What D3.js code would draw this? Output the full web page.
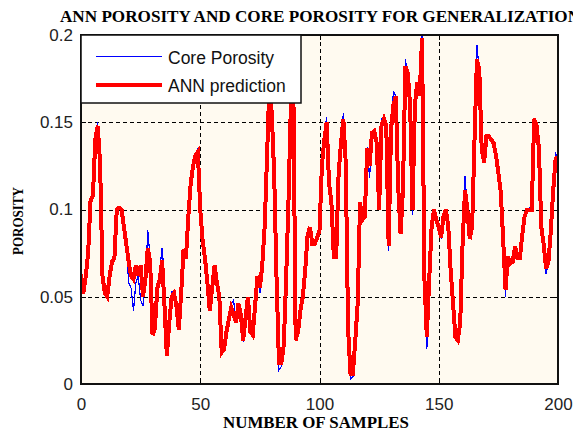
<!DOCTYPE html>
<html><head><meta charset="utf-8">
<script src="https://cdn.jsdelivr.net/npm/d3@7"></script>
<style>
html,body{margin:0;padding:0;background:#fff;overflow:hidden;}
svg{display:block;}
</style></head>
<body>
<script>
const titleText = "ANN POROSITY AND CORE POROSITY FOR GENERALIZATION";
const xLabel = "NUMBER OF SAMPLES";
const yLabel = "POROSITY";
const seriesNames = ["Core Porosity", "ANN prediction"];
const xTicks = [0, 50, 100, 150, 200];
const xTickLabels = ["0", "50", "100", "150", "200"];
const yTicks = [0, 0.05, 0.1, 0.15, 0.2];
const yTickLabels = ["0", "0.05", "0.1", "0.15", "0.2"];

const annPrediction = [
0.063,0.052,0.062,0.075,0.105,0.108,0.140,0.148,0.127,0.062,
0.052,0.050,0.062,0.070,0.072,0.100,0.101,0.100,0.090,0.080,
0.070,0.062,0.060,0.068,0.062,0.068,0.050,0.060,0.078,0.070,
0.028,0.032,0.055,0.060,0.071,0.045,0.016,0.035,0.050,0.052,
0.045,0.031,0.052,0.077,0.072,0.096,0.115,0.125,0.131,0.133,
0.100,0.082,0.072,0.058,0.042,0.055,0.068,0.058,0.050,0.018,
0.020,0.030,0.037,0.044,0.040,0.035,0.046,0.040,0.025,0.038,
0.050,0.030,0.028,0.045,0.062,0.055,0.068,0.090,0.130,0.172,
0.155,0.120,0.060,0.012,0.012,0.022,0.060,0.105,0.160,0.175,
0.025,0.030,0.042,0.050,0.065,0.085,0.090,0.080,0.080,0.084,
0.088,0.125,0.140,0.150,0.115,0.104,0.073,0.073,0.120,0.138,
0.152,0.127,0.031,0.006,0.006,0.025,0.046,0.104,0.094,0.096,
0.135,0.125,0.144,0.145,0.138,0.100,0.148,0.152,0.148,0.079,
0.146,0.160,0.165,0.113,0.086,0.112,0.182,0.178,0.160,0.100,
0.160,0.173,0.165,0.198,0.060,0.027,0.060,0.090,0.100,0.094,
0.090,0.084,0.096,0.100,0.090,0.065,0.046,0.027,0.025,0.035,
0.081,0.111,0.100,0.083,0.090,0.140,0.186,0.180,0.135,0.127,
0.142,0.142,0.140,0.138,0.131,0.121,0.110,0.083,0.054,0.073,
0.069,0.070,0.079,0.072,0.072,0.085,0.096,0.100,0.100,0.100,
0.152,0.148,0.135,0.090,0.080,0.066,0.070,0.088,0.111,0.129,
0.130];

const corePorosity = [
0.063,0.052,0.062,0.075,0.105,0.108,0.140,0.150,0.127,0.062,
0.052,0.050,0.062,0.070,0.072,0.100,0.101,0.100,0.088,0.080,
0.058,0.055,0.042,0.058,0.062,0.048,0.045,0.058,0.088,0.072,
0.028,0.032,0.055,0.065,0.078,0.062,0.016,0.035,0.053,0.052,
0.045,0.031,0.052,0.077,0.072,0.096,0.115,0.125,0.131,0.135,
0.100,0.082,0.072,0.058,0.042,0.055,0.068,0.056,0.050,0.018,
0.020,0.030,0.037,0.046,0.048,0.035,0.046,0.040,0.024,0.038,
0.050,0.030,0.028,0.045,0.062,0.052,0.068,0.090,0.132,0.172,
0.155,0.120,0.060,0.008,0.010,0.022,0.060,0.105,0.160,0.175,
0.025,0.030,0.045,0.050,0.065,0.085,0.090,0.080,0.080,0.084,
0.088,0.120,0.143,0.153,0.115,0.104,0.073,0.073,0.120,0.138,
0.155,0.127,0.031,0.003,0.004,0.025,0.046,0.098,0.094,0.096,
0.136,0.118,0.144,0.145,0.138,0.100,0.152,0.152,0.148,0.076,
0.146,0.168,0.165,0.113,0.086,0.112,0.186,0.178,0.160,0.097,
0.160,0.173,0.168,0.200,0.060,0.020,0.060,0.090,0.100,0.094,
0.086,0.084,0.096,0.100,0.090,0.065,0.046,0.030,0.025,0.035,
0.081,0.119,0.100,0.083,0.090,0.140,0.194,0.180,0.135,0.127,
0.142,0.142,0.140,0.138,0.131,0.121,0.110,0.083,0.050,0.073,
0.069,0.070,0.079,0.072,0.072,0.085,0.096,0.100,0.101,0.100,
0.152,0.150,0.135,0.090,0.080,0.063,0.070,0.088,0.111,0.132,
0.130];

const W = 573, H = 437;
const pL = 81, pR = 558, pT = 35, pB = 384;

const svg = d3.select("body").append("svg").attr("width", W).attr("height", H);

const x = d3.scaleLinear().domain([0, 200]).range([pL, pR]);
const y = d3.scaleLinear().domain([0, 0.2]).range([pB, pT]);

// plot background
svg.append("rect").attr("x", pL).attr("y", pT).attr("width", pR - pL).attr("height", pB - pT)
  .attr("fill", "#fffaf0");

// grid
const grid = svg.append("g").attr("stroke", "#000").attr("stroke-width", 1).attr("stroke-dasharray", "4,3")
  .attr("fill", "none").attr("shape-rendering", "crispEdges");
xTicks.slice(1, -1).forEach(v => {
  grid.append("line").attr("x1", Math.round(x(v)) + 0.5).attr("x2", Math.round(x(v)) + 0.5).attr("y1", pT).attr("y2", pB);
});
yTicks.slice(1, -1).forEach(v => {
  grid.append("line").attr("y1", Math.round(y(v)) + 0.5).attr("y2", Math.round(y(v)) + 0.5).attr("x1", pL).attr("x2", pR);
});

// inner tick marks
const tk = svg.append("g").attr("stroke", "#000").attr("stroke-width", 1).attr("shape-rendering", "crispEdges");
xTicks.forEach(v => {
  const xx = Math.round(x(v)) + 0.5;
  tk.append("line").attr("x1", xx).attr("x2", xx).attr("y1", pB).attr("y2", pB - 5);
  tk.append("line").attr("x1", xx).attr("x2", xx).attr("y1", pT).attr("y2", pT + 5);
});
yTicks.forEach(v => {
  const yy = Math.round(y(v)) + 0.5;
  tk.append("line").attr("x1", pL).attr("x2", pL + 5).attr("y1", yy).attr("y2", yy);
  tk.append("line").attr("x1", pR).attr("x2", pR - 5).attr("y1", yy).attr("y2", yy);
});

// data lines
const idx = d3.range(annPrediction.length);
svg.append("clipPath").attr("id", "clip").append("rect")
  .attr("x", pL).attr("y", pT).attr("width", pR - pL).attr("height", pB - pT);
svg.append("path").datum(idx).attr("clip-path", "url(#clip)")
  .attr("d", d3.line().x(i => x(i)).y(i => y(corePorosity[i])))
  .attr("fill", "none").attr("stroke", "#0000ff").attr("stroke-width", 1.2).attr("shape-rendering", "crispEdges");
svg.append("path").datum(idx).attr("clip-path", "url(#clip)")
  .attr("d", d3.line().x(i => x(i)).y(i => y(annPrediction[i])))
  .attr("fill", "none").attr("stroke", "#ff0000").attr("stroke-width", 4).attr("stroke-linejoin", "miter")
  .attr("shape-rendering", "crispEdges");

// frame
svg.append("rect").attr("x", pL).attr("y", pT).attr("width", pR - pL).attr("height", pB - pT)
  .attr("fill", "none").attr("stroke", "#111").attr("stroke-width", 2);

// axes labels via d3 axes
const xAxis = d3.axisBottom(x).tickValues(xTicks).tickFormat((d, i) => xTickLabels[i]).tickSize(0).tickPadding(14);
const gx = svg.append("g").attr("transform", `translate(0,${pB})`).call(xAxis);
gx.select(".domain").remove();
gx.selectAll("text").attr("font-family", "Liberation Sans, Arial, sans-serif").attr("font-size", 17).attr("fill", "#222");

const yAxis = d3.axisLeft(y).tickValues(yTicks).tickFormat((d, i) => yTickLabels[i]).tickSize(0).tickPadding(8);
const gy = svg.append("g").attr("transform", `translate(${pL},0)`).call(yAxis);
gy.select(".domain").remove();
gy.selectAll("text").attr("font-family", "Liberation Sans, Arial, sans-serif").attr("font-size", 17).attr("fill", "#222");

// legend
const lg = svg.append("g");
lg.append("rect").attr("x", pL).attr("y", pT).attr("width", 301 - pL).attr("height", 103 - pT)
  .attr("fill", "#fff").attr("stroke", "#111").attr("stroke-width", 1.5);
lg.append("line").attr("x1", 96).attr("x2", 162).attr("y1", 56.5).attr("y2", 56.5).attr("stroke", "#0000ff").attr("stroke-width", 1);
lg.append("line").attr("x1", 96).attr("x2", 162).attr("y1", 85).attr("y2", 85).attr("stroke", "#ff0000").attr("stroke-width", 4)
  .attr("shape-rendering", "crispEdges");
lg.append("text").attr("x", 168).attr("y", 64).text(seriesNames[0])
  .attr("font-family", "Liberation Sans, Arial, sans-serif").attr("font-size", 17.5).attr("fill", "#111");
lg.append("text").attr("x", 168).attr("y", 92).text(seriesNames[1])
  .attr("font-family", "Liberation Sans, Arial, sans-serif").attr("font-size", 17.5).attr("fill", "#111");

// titles
svg.append("text").attr("x", 60).attr("y", 22).text(titleText)
  .attr("font-family", "Liberation Serif, Times New Roman, serif").attr("font-weight", "bold").attr("font-size", 16)
  .attr("textLength", 520).attr("lengthAdjust", "spacingAndGlyphs").attr("fill", "#000");
svg.append("text").attr("x", 223).attr("y", 428).text(xLabel)
  .attr("font-family", "Liberation Serif, Times New Roman, serif").attr("font-weight", "bold").attr("font-size", 16)
  .attr("textLength", 186).attr("lengthAdjust", "spacingAndGlyphs").attr("fill", "#000");
svg.append("text").attr("transform", "translate(23,255) rotate(-90)").text(yLabel)
  .attr("font-family", "Liberation Serif, Times New Roman, serif").attr("font-weight", "bold").attr("font-size", 14)
  .attr("textLength", 68).attr("lengthAdjust", "spacingAndGlyphs").attr("fill", "#000");
</script>
</body></html>
